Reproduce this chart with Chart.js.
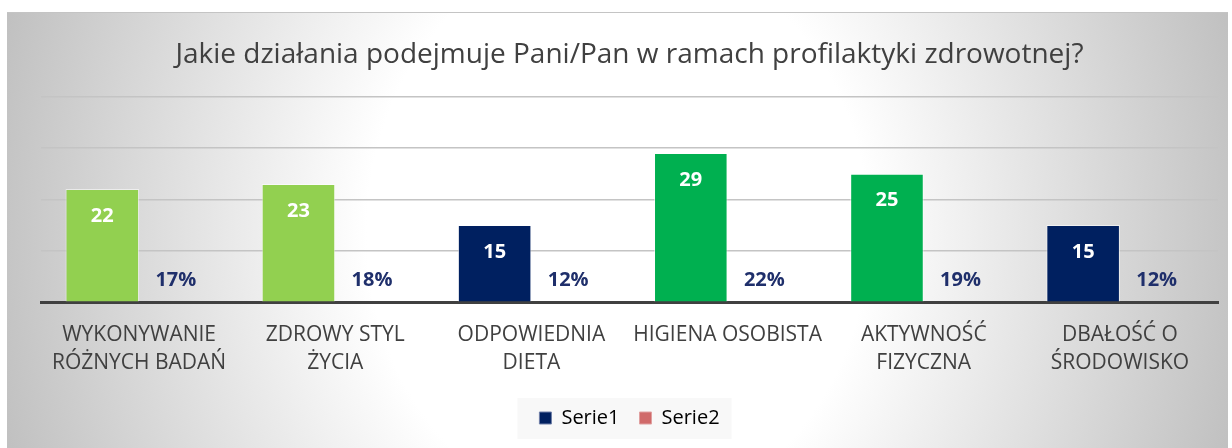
<!DOCTYPE html>
<html>
<head>
<meta charset="utf-8">
<script src="https://cdn.jsdelivr.net/npm/chart.js@4"></script>
<style>
  body { margin: 0; background: #fff; }
  #wrap {
    position: absolute; left: 7px; top: 12px; width: 1221px; height: 436px;
    border-top: 1px solid #c4c4c4;
    background: radial-gradient(ellipse 660px 760px at 50% 50%, #ffffff 38%, #bdbdbd 100%);
  }
</style>
</head>
<body>
<div id="wrap"><canvas id="chart" width="1221" height="435"></canvas></div>
<script>
const categories = [
  ["WYKONYWANIE", "RÓŻNYCH BADAŃ"],
  ["ZDROWY STYL", "ŻYCIA"],
  ["ODPOWIEDNIA", "DIETA"],
  ["HIGIENA OSOBISTA"],
  ["AKTYWNOŚĆ", "FIZYCZNA"],
  ["DBAŁOŚĆ O", "ŚRODOWISKO"],
];
const serie1 = [22, 23, 15, 29, 25, 15];
const serie2 = [0.17, 0.18, 0.12, 0.22, 0.19, 0.12];
const serie1Colors = ["#92d050", "#92d050", "#002060", "#00b050", "#00b050", "#002060"];

// etykiety danych (bez pluginu datalabels)
const valueLabels = {
  id: "valueLabels",
  afterDatasetsDraw(chart) {
    const ctx = chart.ctx;
    ctx.save();
    ctx.textAlign = "center";
    ctx.textBaseline = "middle";
    ctx.font = "bold 20px 'Open Sans'";
    chart.getDatasetMeta(0).data.forEach((bar, i) => {
      ctx.fillStyle = "#ffffff";
      ctx.fillText(serie1[i], bar.x, bar.y + 27);
    });
    const baseY = chart.scales.y.getPixelForValue(0);
    chart.getDatasetMeta(1).data.forEach((bar, i) => {
      ctx.fillStyle = "#1f2f6b";
      ctx.fillText(Math.round(serie2[i] * 100) + "%", bar.x, baseY - 22);
    });
    ctx.restore();
  },
};

// tło legendy
const legendBox = {
  id: "legendBox",
  beforeDraw(chart) {
    const boxes = chart.legend && chart.legend.legendHitBoxes;
    if (!boxes || !boxes.length) return;
    const left = Math.min(...boxes.map((b) => b.left)) - 22;
    const right = Math.max(...boxes.map((b) => b.left + b.width)) + 12;
    const top = Math.min(...boxes.map((b) => b.top)) - 10;
    const bottom = Math.max(...boxes.map((b) => b.top + b.height)) + 11;
    const ctx = chart.ctx;
    ctx.save();
    ctx.fillStyle = "rgba(248,248,248,0.95)";
    ctx.fillRect(left, top, right - left, bottom - top);
    ctx.restore();
  },
};

new Chart(document.getElementById("chart"), {
  type: "bar",
  data: {
    labels: categories,
    datasets: [
      {
        label: "Serie1",
        data: serie1,
        backgroundColor: serie1Colors,
        borderColor: "rgba(255,255,255,0.55)",
        borderWidth: 1,
        categoryPercentage: 0.75,
        barPercentage: 1,
      },
      {
        label: "Serie2",
        data: serie2,
        // słupki ~0 wysokości, schowane pod osią
        backgroundColor: "rgba(208,106,106,0)",
        categoryPercentage: 0.75,
        barPercentage: 1,
      },
    ],
  },
  options: {
    responsive: false,
    animation: false,
    layout: { padding: { left: 34, right: 10, top: 0, bottom: 10 } },
    plugins: {
      title: {
        display: true,
        text: "Jakie działania podejmuje Pani/Pan w ramach profilaktyki zdrowotnej?",
        color: "#404040",
        font: { family: "'Open Sans'", size: 28, weight: "normal", lineHeight: 1.2 },
        padding: { top: 25, bottom: 25 },
      },
      legend: {
        position: "bottom",
        labels: {
          color: "#404040",
          font: { family: "'Open Sans'", size: 20 },
          boxWidth: 12,
          boxHeight: 12,
          padding: 20,
          generateLabels: () => [
            { text: "Serie1", fillStyle: "#002060", strokeStyle: "#6f7fa8", lineWidth: 1, datasetIndex: 0 },
            { text: "Serie2", fillStyle: "#d06a6a", strokeStyle: "#e0a0a0", lineWidth: 1, datasetIndex: 1 },
          ],
        },
      },
      tooltip: { enabled: false },
    },
    scales: {
      x: {
        z: 1,
        grid: { display: false },
        border: { display: true, color: "#404040", width: 3 },
        ticks: {
          color: "#404040",
          font: { family: "'Open Sans'", size: 21, lineHeight: 1.33 },
          padding: 11,
          maxRotation: 0,
          autoSkip: false,
        },
      },
      y: {
        min: 0,
        max: 40,
        ticks: { display: false, stepSize: 10 },
        grid: { color: "#c4c4c4", lineWidth: 1.5, drawTicks: false },
        border: { display: false },
        afterFit: (scale) => { scale.width = 0; },
      },
    },
  },
  plugins: [legendBox, valueLabels],
});
</script>
</body>
</html>
